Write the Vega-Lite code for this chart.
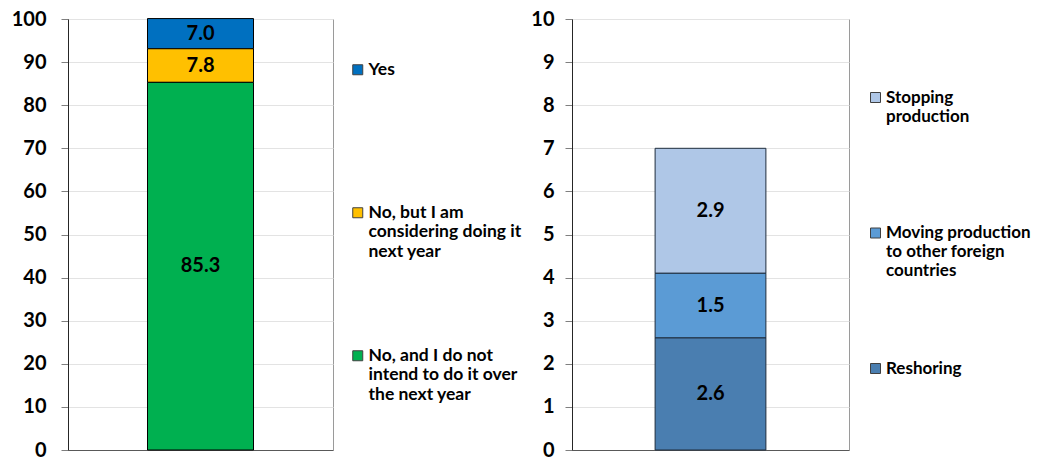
{
  "$schema": "https://vega.github.io/schema/vega-lite/v6.json",
  "padding": {"left": 10, "top": 8, "right": 0, "bottom": 0},
  "spacing": 7,
  "config": {
    "font": "Lato",
    "view": {"stroke": "#9a9a9a", "strokeWidth": 1},
    "axis": {"labelFont": "Lato", "labelFontWeight": "bold", "labelFontSize": 20, "labelColor": "#000", "gridColor": "#e3e3e3", "tickColor": "#7f7f7f", "tickSize": 7, "domainColor": "#404040", "title": null},
    "legend": {"labelFont": "Lato", "labelFontWeight": "bold", "labelFontSize": 17.5, "labelColor": "#000", "symbolType": "square", "symbolSize": 100, "symbolStrokeColor": "#404040", "symbolStrokeWidth": 1, "labelOffset": 2, "labelLimit": 300, "gridAlign": "all", "labelBaseline": "middle", "title": null}
  },
  "resolve": {"scale": {"color": "independent"}, "legend": {"color": "independent"}},
  "hconcat": [
    {
      "width": 265,
      "height": 431,
      "data": {"values": [
        {"cat": "A", "answer": "Yes", "value": 7.0, "ord": 3},
        {"cat": "A", "answer": "No, but I am|considering doing it|next year", "value": 7.8, "ord": 2},
        {"cat": "A", "answer": "No, and I do not|intend to do it over|the next year", "value": 85.3, "ord": 1}
      ]},
      "encoding": {
        "x": {"field": "cat", "type": "nominal", "scale": {"paddingInner": 0, "paddingOuter": 0.75}, "axis": {"labels": false, "ticks": false, "domainColor": "#595959"}},
        "y": {"field": "value", "type": "quantitative", "stack": "zero", "scale": {"domain": [0, 100], "nice": false}, "axis": {"values": [0,10,20,30,40,50,60,70,80,90,100], "labelPadding": 15, "domainColor": "#262626"}},
        "order": {"field": "ord", "type": "quantitative"}
      },
      "layer": [
        {
          "mark": {"type": "bar", "stroke": "#000", "strokeWidth": 1},
          "encoding": {
            "color": {"field": "answer", "type": "nominal",
              "scale": {"domain": ["Yes", "No, but I am|considering doing it|next year", "No, and I do not|intend to do it over|the next year"], "range": ["#0070C0", "#FFC000", "#00B050"]},
              "legend": {"orient": "none", "legendX": 281, "legendY": 42, "rowPadding": 85, "labelExpr": "split(datum.label, '|')", "labelLineHeight": 22.5}}
          }
        },
        {
          "mark": {"type": "text", "font": "Lato", "fontWeight": "bold", "fontSize": 20, "color": "#000"},
          "encoding": {
            "y": {"field": "value", "type": "quantitative", "stack": "zero", "bandPosition": 0.5},
            "text": {"field": "value", "type": "quantitative", "format": ".1f"}
          }
        }
      ]
    },
    {
      "width": 277,
      "height": 431,
      "data": {"values": [
        {"cat": "A", "reason": "Stopping|production", "value": 2.9, "ord": 3},
        {"cat": "A", "reason": "Moving production|to other foreign|countries", "value": 1.5, "ord": 2},
        {"cat": "A", "reason": "Reshoring", "value": 2.6, "ord": 1}
      ]},
      "encoding": {
        "x": {"field": "cat", "type": "nominal", "scale": {"paddingInner": 0, "paddingOuter": 0.75}, "axis": {"labels": false, "ticks": false, "domainColor": "#595959"}},
        "y": {"field": "value", "type": "quantitative", "stack": "zero", "scale": {"domain": [0, 10], "nice": false}, "axis": {"values": [0,1,2,3,4,5,6,7,8,9,10], "labelPadding": 11, "domainColor": "#262626"}},
        "order": {"field": "ord", "type": "quantitative"}
      },
      "layer": [
        {
          "mark": {"type": "bar", "stroke": "#1f2d3d", "strokeWidth": 1},
          "encoding": {
            "color": {"field": "reason", "type": "nominal",
              "scale": {"domain": ["Stopping|production", "Moving production|to other foreign|countries", "Reshoring"], "range": ["#AFC7E7", "#5B9BD5", "#4A7EB0"]},
              "legend": {"orient": "none", "legendX": 295, "legendY": 70, "rowPadding": 79.5, "labelFontSize": 17, "labelExpr": "split(datum.label, '|')", "labelLineHeight": 23}}
          }
        },
        {
          "mark": {"type": "text", "font": "Lato", "fontWeight": "bold", "fontSize": 20, "color": "#000"},
          "encoding": {
            "y": {"field": "value", "type": "quantitative", "stack": "zero", "bandPosition": 0.5},
            "text": {"field": "value", "type": "quantitative", "format": ".1f"}
          }
        }
      ]
    }
  ]
}
